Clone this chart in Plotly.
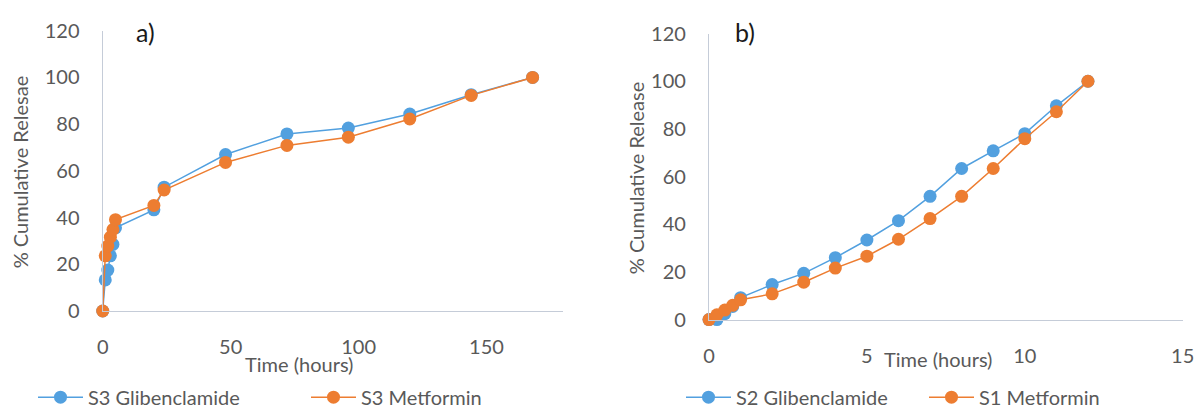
import plotly.graph_objects as go

# ---- data (a) ----
time_a = [0, 1, 2, 3, 4, 5, 20, 24, 48, 72, 96, 120, 144, 168]
glib_s3 = [0, 13.3, 17.5, 23.6, 28.5, 35.6, 43.3, 53.0, 67.0, 75.8, 78.3, 84.3, 92.6, 100]
metf_s3 = [0, 23.6, 27.8, 31.6, 34.9, 39.1, 45.2, 51.8, 63.6, 70.9, 74.4, 82.2, 92.3, 100]

# ---- data (b) ----
time_b = [0, 0.25, 0.5, 0.75, 1, 2, 3, 4, 5, 6, 7, 8, 9, 10, 11, 12]
glib_s2 = [0, 0, 2.5, 5.5, 9.2, 14.7, 19.4, 26.0, 33.4, 41.5, 51.7, 63.4, 70.8, 78.0, 89.7, 100]
metf_s1 = [0, 2, 4, 6, 8.3, 10.8, 15.7, 21.6, 26.6, 33.7, 42.4, 51.7, 63.4, 75.9, 87.2, 100]

yticks = [0, 20, 40, 60, 80, 100, 120]
xticks_a = [0, 50, 100, 150]
xticks_b = [0, 5, 10, 15]

BLUE = "#52A0DF"
ORANGE = "#ED7D31"
AX = "#C5CCD8"
TXT = "#595959"
FONT = "Lato, 'Open Sans', sans-serif"
FS = 20

W, H = 1198, 417

def px(x):
    return x / W

def py(y):
    return (H - y) / H

fig = go.Figure()

def add(x, y, name, color, xa, ya, legend):
    fig.add_trace(go.Scatter(
        x=x, y=y, name=name, mode="lines+markers",
        line=dict(color=color, width=1.5),
        marker=dict(color=color, size=13),
        xaxis=xa, yaxis=ya, legend=legend, cliponaxis=False,
    ))

add(time_a, glib_s3, "S3 Glibenclamide", BLUE, "x", "y", "legend")
add(time_a, metf_s3, "S3 Metformin", ORANGE, "x", "y", "legend")
add(time_b, glib_s2, "S2 Glibenclamide", BLUE, "x2", "y2", "legend2")
add(time_b, metf_s1, "S1 Metformin", ORANGE, "x2", "y2", "legend2")

common = dict(showgrid=False, zeroline=False, showline=True, linecolor=AX, linewidth=1.3,
              automargin=False,
              ticks="", tickfont=dict(family=FONT, size=FS, color=TXT), ticklabelstandoff=18)

fig.update_layout(
    width=W, height=H,
    margin=dict(l=0, r=0, t=0, b=0, pad=0),
    paper_bgcolor="white", plot_bgcolor="white",
    font=dict(family=FONT, color=TXT),
    xaxis=dict(domain=[px(102.7), px(563.3)], range=[0, 180], tickvals=xticks_a, anchor="y", **common),
    yaxis=dict(domain=[py(314), py(31)], range=[0, 120], tickvals=yticks, anchor="x", **common),
    xaxis2=dict(domain=[px(709), px(1182.7)], range=[0, 15], tickvals=xticks_b, anchor="y2", **common),
    yaxis2=dict(domain=[py(322.7), py(33.9)], range=[0, 120], tickvals=yticks, anchor="x2", **common),
    legend=dict(orientation="h", x=px(33), y=py(401), xanchor="left", yanchor="middle",
                font=dict(family=FONT, size=FS, color=TXT), entrywidth=213, entrywidthmode="pixels",
                itemwidth=45, bgcolor="rgba(0,0,0,0)"),
    legend2=dict(orientation="h", x=px(681), y=py(401), xanchor="left", yanchor="middle",
                 font=dict(family=FONT, size=FS, color=TXT), entrywidth=183, entrywidthmode="pixels",
                 itemwidth=45, bgcolor="rgba(0,0,0,0)"),
    showlegend=True,
)

ann = [
    dict(text="a)", x=px(145), y=py(32), font=dict(size=25, color="#1a1a1a")),
    dict(text="b)", x=px(745), y=py(32), font=dict(size=25, color="#1a1a1a")),
    dict(text="% Cumulative Relesae", x=px(20), y=py(174), textangle=-90, font=dict(size=FS, color=TXT)),
    dict(text="% Cumulative Release", x=px(636), y=py(180), textangle=-90, font=dict(size=FS, color=TXT)),
    dict(text="Time (hours)", x=px(299), y=py(368), font=dict(size=FS, color=TXT)),
    dict(text="Time (hours)", x=px(938), y=py(362), font=dict(size=FS, color=TXT)),
]
for a in ann:
    a["font"]["family"] = FONT
    fig.add_annotation(xref="paper", yref="paper", showarrow=False,
                       xanchor="center", yanchor="middle", **a)

fig.write_html("out.html")
